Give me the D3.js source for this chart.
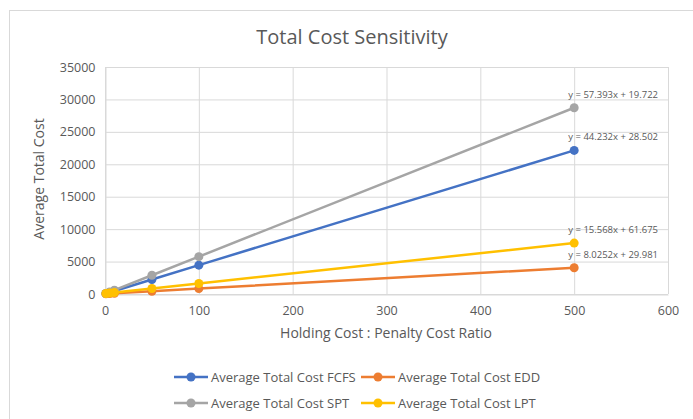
<!DOCTYPE html>
<html lang="en">
<head>
    <meta charset="UTF-8">
    <title>Total Cost Sensitivity</title>
    <script src="https://d3js.org/d3.v7.min.js"></script>
    <style>
        body { margin: 0; background: #fff; }
        text { font-family: "Open Sans", "Noto Sans", sans-serif; }
    </style>
</head>
<body>
<script>
    var width = 693;
    var height = 419;

    // holding : penalty cost ratio
    var ratios = [1, 5, 10, 50, 100, 500];

    var fcfs = [75, 250, 470, 2240, 4450, 22140];
    var edd = [40, 70, 110, 430, 830, 4040];
    var spt = [80, 300, 590, 2890, 5760, 28720];
    var lpt = [80, 140, 220, 840, 1620, 7850];

    var seriesNames = ["Average Total Cost FCFS", "Average Total Cost EDD",
        "Average Total Cost SPT", "Average Total Cost LPT"];
    var seriesColors = ["#4472C4", "#ED7D31", "#A5A5A5", "#FFC000"];
    var trendLabels = ["y = 44.232x + 28.502", "y = 8.0252x + 29.981",
        "y = 57.393x + 19.722", "y = 15.568x + 61.675"];

    var xTicks = [0, 100, 200, 300, 400, 500, 600];
    var yTicks = [0, 5000, 10000, 15000, 20000, 25000, 30000, 35000];

    var allSeries = [fcfs, edd, spt, lpt];

    var svg = d3.select("body").append("svg")
        .attr("width", width)
        .attr("height", height);

    // chart frame
    svg.append("rect")
        .attr("x", 9.5)
        .attr("y", 10.5)
        .attr("width", 700)
        .attr("height", 420)
        .attr("fill", "#fff")
        .attr("stroke", "#d9d9d9");

    var x_scale = d3.scaleLinear().domain([0, 600]).range([105, 668]);
    var y_scale = d3.scaleLinear().domain([0, 35000]).range([294, 67]);

    // grid
    var grid = svg.append("g");
    grid.selectAll("line.h").data(yTicks).enter().append("line")
        .attr("x1", x_scale(0)).attr("x2", x_scale(600))
        .attr("y1", d => y_scale(d) + 0.5).attr("y2", d => y_scale(d) + 0.5)
        .attr("stroke", "#d9d9d9").attr("stroke-width", 1);
    grid.selectAll("line.v").data(xTicks).enter().append("line")
        .attr("y1", y_scale(0)).attr("y2", y_scale(35000))
        .attr("x1", d => x_scale(d) + 0.5).attr("x2", d => x_scale(d) + 0.5)
        .attr("stroke", "#d9d9d9").attr("stroke-width", 1);

    // axes
    var xAxis = svg.append("g")
        .attr("transform", "translate(0," + (y_scale(0) + 0.5) + ")")
        .call(d3.axisBottom(x_scale).tickValues(xTicks).tickFormat(d3.format("d"))
            .tickSize(0).tickPadding(12));
    var yAxis = svg.append("g")
        .attr("transform", "translate(" + (x_scale(0) + 0.5) + ",0)")
        .call(d3.axisLeft(y_scale).tickValues(yTicks).tickFormat(d3.format("d"))
            .tickSize(0).tickPadding(10));
    [xAxis, yAxis].forEach(function (a) {
        a.select(".domain").attr("stroke", "#d9d9d9");
        a.selectAll("text")
            .attr("fill", "#595959")
            .attr("font-size", "12.5px")
            .attr("font-family", "'Open Sans', sans-serif");
    });

    // title and axis titles
    svg.append("text")
        .attr("x", 352).attr("y", 44)
        .attr("text-anchor", "middle")
        .attr("font-size", "20px")
        .attr("fill", "#595959")
        .text("Total Cost Sensitivity");

    svg.append("text")
        .attr("transform", "translate(44," + 179 + ") rotate(-90)")
        .attr("text-anchor", "middle")
        .attr("font-size", "14px")
        .attr("fill", "#595959")
        .text("Average Total Cost");

    svg.append("text")
        .attr("x", 386).attr("y", 338)
        .attr("text-anchor", "middle")
        .attr("font-size", "14px")
        .attr("fill", "#595959")
        .text("Holding Cost : Penalty Cost Ratio");

    var line = d3.line()
        .x(function (d, i) { return x_scale(ratios[i]) })
        .y(function (d) { return y_scale(d) });

    var plot = svg.append("g");
    allSeries.forEach(function (values, s) {
        plot.append("path")
            .attr("d", line(values))
            .attr("fill", "none")
            .attr("stroke", seriesColors[s])
            .attr("stroke-width", 2.5);
        plot.selectAll(null).data(values).enter().append("circle")
            .attr("cx", (d, i) => x_scale(ratios[i]))
            .attr("cy", d => y_scale(d))
            .attr("r", 4.5)
            .attr("fill", seriesColors[s]);
    });

    // trendline equations at the last point
    allSeries.forEach(function (values, s) {
        var last = values[values.length - 1];
        svg.append("text")
            .attr("x", x_scale(500) + 39)
            .attr("y", y_scale(last) - 10)
            .attr("text-anchor", "middle")
            .attr("font-size", "9.5px")
            .attr("fill", "#595959")
            .text(trendLabels[s]);
    });

    // legend
    var legendPos = [[174, 377], [361, 377], [174, 403], [361, 403]];
    seriesNames.forEach(function (name, s) {
        var g = svg.append("g")
            .attr("transform", "translate(" + legendPos[s][0] + "," + legendPos[s][1] + ")");
        g.append("line")
            .attr("x1", 0).attr("x2", 34)
            .attr("stroke", seriesColors[s]).attr("stroke-width", 2.5);
        g.append("circle")
            .attr("cx", 17).attr("r", 4.5)
            .attr("fill", seriesColors[s]);
        g.append("text")
            .attr("x", 37).attr("y", 4.5)
            .attr("font-size", "13px")
            .attr("fill", "#595959")
            .text(name);
    });
</script>
</body>
</html>
